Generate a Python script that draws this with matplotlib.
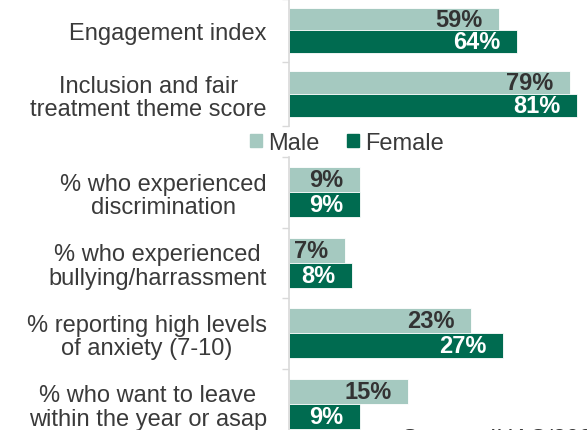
import matplotlib
matplotlib.use("Agg")
import matplotlib.pyplot as plt
from matplotlib.patches import Rectangle
import numpy as np

plt.rcParams['font.family'] = ['Liberation Sans', 'DejaVu Sans']

# Data
top_cats = ["Engagement index", "Inclusion and fair\ntreatment theme score"]
top_male = [59, 79]
top_female = [64, 81]

bottom_cats = ["% who experienced\ndiscrimination",
               "% who experienced\nbullying/harrassment",
               "% reporting high levels\nof anxiety (7-10)",
               "% who want to leave\nwithin the year or asap"]
bottom_male = [9, 7, 23, 15]
bottom_female = [9, 8, 27, 9]

series_names = ["Male", "Female"]

# Style
c_male = "#A5C9C0"
c_female = "#006B50"
txt = "#3A3A3A"
spine_c = "#D9D9D9"
fs = 17
W, H = 587, 431

fig = plt.figure(figsize=(W / 100, H / 100), dpi=100)


def px_axes(left, top, right, bottom):
    return fig.add_axes([left / W, 1 - bottom / H, (right - left) / W, (bottom - top) / H])


def draw(ax, cats, male, female, xmax):
    n = len(cats)
    y = np.arange(n)
    h = 0.355
    ax.barh(y - h / 2, male, height=h, color=c_male, edgecolor="white", linewidth=0.6)
    ax.barh(y + h / 2, female, height=h, color=c_female, edgecolor="white", linewidth=0.6)
    ax.set_xlim(0, xmax)
    ax.set_ylim(n - 0.5, -0.5)
    ax.set_xticks([])
    ax.set_yticks(y)
    ax.set_yticklabels(cats, fontsize=fs, color=txt, multialignment="center",
                       linespacing=1.1)
    ax.tick_params(axis="y", which="major", length=0, pad=16)
    ax.set_yticks(np.arange(n + 1) - 0.5, minor=True)
    ax.tick_params(axis="y", which="minor", length=5, width=1, color=spine_c)
    for s in ["top", "right", "bottom"]:
        ax.spines[s].set_visible(False)
    ax.spines["left"].set_color(spine_c)
    ax.spines["left"].set_linewidth(1.2)
    for i in range(n):
        ax.annotate(f"{male[i]}%", (male[i], y[i] - h / 2), xytext=(-12, 0),
                    textcoords="offset points", ha="right", va="center",
                    fontsize=fs, fontweight="bold", color="#333333")
        ax.annotate(f"{female[i]}%", (female[i], y[i] + h / 2), xytext=(-12, 0),
                    textcoords="offset points", ha="right", va="center",
                    fontsize=fs, fontweight="bold", color="white")


ax1 = px_axes(289, -0.5, 587, 127)
draw(ax1, top_cats, top_male, top_female, 298 / 3.56)

ax2 = px_axes(289, 158, 587, 440)
draw(ax2, bottom_cats, bottom_male, bottom_female, 298 / 7.93)

handles = [Rectangle((0, 0), 1, 1, color=c_male), Rectangle((0, 0), 1, 1, color=c_female)]
fig.legend(handles, series_names, loc="center", bbox_to_anchor=(347 / W, 1 - 144 / H),
           ncol=2, frameon=False, fontsize=fs, labelcolor=txt,
           handlelength=0.5, handleheight=0.5, handletextpad=0.25,
           columnspacing=1.2, borderpad=0, borderaxespad=0)

# source note, cut off by the bottom edge as in the original
fig.text(402 / W, 1 - 429 / H, "Source: IHAC/2023", fontsize=fs, color=txt,
         ha="left", va="top")

fig.savefig("out.png", dpi=100)
